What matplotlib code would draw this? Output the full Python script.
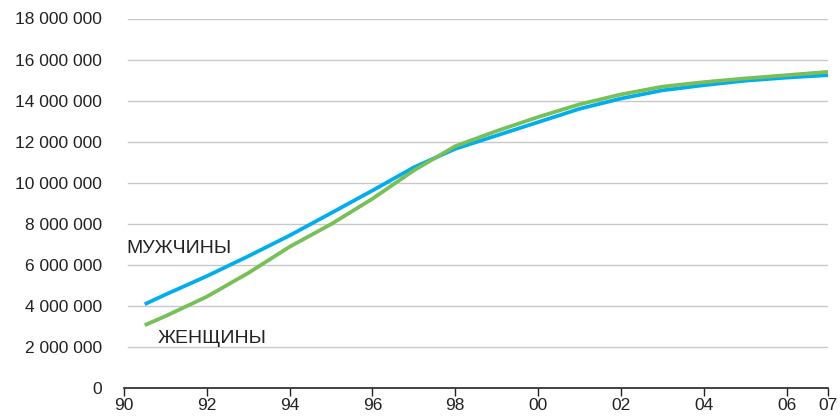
import matplotlib
matplotlib.use("Agg")
import matplotlib.pyplot as plt
from matplotlib.ticker import FuncFormatter

years = [1990.5, 1991, 1992, 1993, 1994, 1995, 1996, 1997, 1998, 1999, 2000,
         2001, 2002, 2003, 2004, 2005, 2006, 2007]
men = [4.08, 4.55, 5.45, 6.42, 7.43, 8.52, 9.62, 10.75, 11.65, 12.30, 12.95,
       13.60, 14.10, 14.50, 14.75, 14.97, 15.12, 15.24]
women = [3.06, 3.50, 4.45, 5.60, 6.88, 7.98, 9.22, 10.60, 11.78, 12.52, 13.20,
         13.82, 14.30, 14.68, 14.90, 15.08, 15.24, 15.40]
men = [v * 1e6 for v in men]
women = [v * 1e6 for v in women]

xticks = [1990, 1992, 1994, 1996, 1998, 2000, 2002, 2004, 2006, 2007]
xticklabels = ["90", "92", "94", "96", "98", "00", "02", "04", "06", "07"]
yticks = [0, 2e6, 4e6, 6e6, 8e6, 10e6, 12e6, 14e6, 16e6, 18e6]

plt.rcParams['font.family'] = ['Liberation Sans', 'DejaVu Sans']

fig = plt.figure(figsize=(8.4, 4.17), dpi=100)
ax = fig.add_axes([124/840, 1-388/417, 704/840, (388-18.5)/417])

ax.plot(years, men, color='#00aeef', lw=2.7, solid_capstyle='butt', zorder=3)
ax.plot(years, women, color='#77bf57', lw=2.7, solid_capstyle='butt', zorder=3)

ax.set_xlim(1990, 2007)
ax.set_ylim(0, 18e6)
ax.set_xticks(xticks)
ax.set_xticklabels(xticklabels)
ax.set_yticks(yticks)
ax.yaxis.set_major_formatter(FuncFormatter(lambda v, p: "0" if v == 0 else f"{int(v):,}".replace(",", " ")))

for y in yticks[1:]:
    ax.axhline(y, xmin=4/704, xmax=1, color='#c8c8c8', lw=1.0, zorder=1)

for s in ['top', 'right', 'left']:
    ax.spines[s].set_visible(False)
ax.spines['bottom'].set_color('#222222')
ax.spines['bottom'].set_linewidth(1.2)
ax.tick_params(axis='y', length=0, pad=16, labelsize=12.5, labelcolor='#222222')
ax.tick_params(axis='x', length=6, width=1, color='#222222', pad=1, labelsize=12.5, labelcolor='#222222')

ax.text(1990.05, 6.8e6, "МУЖЧИНЫ", fontsize=14, color='#222222', va='center', ha='left')
ax.text(1990.82, 2.4e6, "ЖЕНЩИНЫ", fontsize=14, color='#222222', va='center', ha='left')

fig.savefig("out.png", dpi=100)
